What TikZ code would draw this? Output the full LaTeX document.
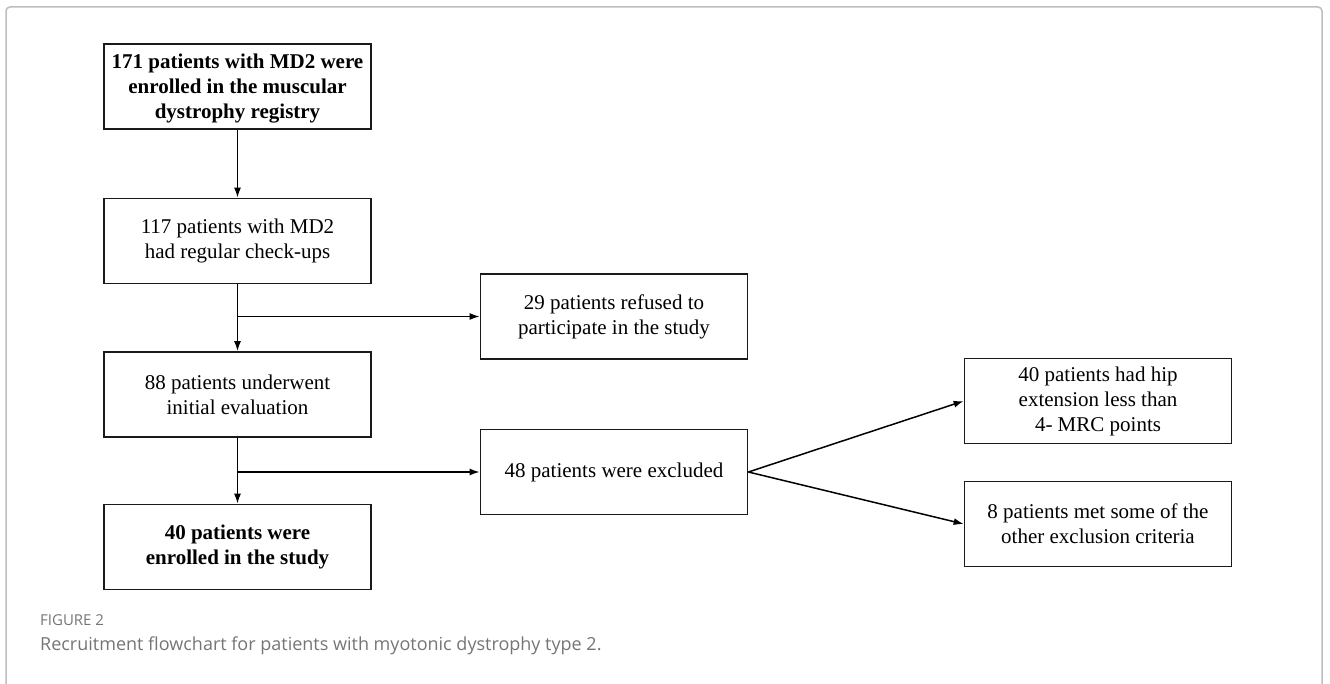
\documentclass[tikz,border=0pt]{standalone}
\usepackage{fontspec}
\setmainfont{Liberation Serif}
\newfontfamily\capfont{Open Sans}
\usetikzlibrary{arrows.meta}
\definecolor{framegray}{HTML}{BDBDBD}
\definecolor{capgray}{HTML}{757575}
\definecolor{boxline}{HTML}{1A1A1A}
\begin{document}
\begin{tikzpicture}[x=1pt,y=-1pt,
  flowbox/.style={draw=boxline, line width=1.7pt, minimum width=267pt, minimum height=85pt,
    inner sep=0pt, align=center, font=\fontsize{21}{25}\selectfont},
  boldbox/.style={flowbox, font=\fontsize{21}{25}\selectfont\bfseries},
  conn/.style={draw=black, line width=1.5pt, -{Latex[length=10pt,width=7pt]}},
  plainline/.style={draw=black, line width=1.5pt}]
\useasboundingbox (0,0) rectangle (1330,684);
% frame
\draw[framegray, line width=1.5pt, rounded corners=4pt] (6,700) -- (6,7) -- (1322,7) -- (1322,700);
% boxes
\node[boldbox, text depth=0pt] (b1) at (237.5,86.5) {171 patients with MD2 were\\enrolled in the muscular\\dystrophy registry};
\node[flowbox] (b2) at (237.5,241) {117 patients with MD2\\had regular check-ups};
\node[flowbox] (b3) at (237.5,394.5) {88 patients underwent\\initial evaluation};
\node[boldbox] (b4) at (237.5,547) {40 patients were\\enrolled in the study};
\node[flowbox] (r1) at (614,316.5) {29 patients refused to\\participate in the study};
\node[flowbox] (r2) at (614,472) {48 patients were excluded};
\node[flowbox] (e1) at (1098,401) {40 patients had hip\\extension less than\\4- MRC points};
\node[flowbox] (e2) at (1098,524) {8 patients met some of the\\other exclusion criteria};
% connectors
\draw[conn] (b1.south) -- (b2.north);
\draw[conn] (b2.south) -- (b3.north);
\draw[conn] (b3.south) -- (b4.north);
\coordinate (j1) at (b2.south |- r1.west);
\coordinate (j2) at (b3.south |- r2.west);
\draw[conn] (j1) -- (r1.west);
\draw[conn] (j2) -- (r2.west);
\draw[conn] (r2.east) -- (e1.west);
\draw[conn] (r2.east) -- (e2.west);
% caption
\node[anchor=base west, inner sep=0pt, text=capgray, font=\capfont\fontsize{15}{17}\selectfont] (fig) at (40,625) {FIGURE 2};
\node[anchor=base west, inner sep=0pt, text=capgray, font=\capfont\fontsize{18}{20}\selectfont] (cap) at (40,650) {Recruitment flowchart for patients with myotonic dystrophy type 2.};
\end{tikzpicture}
\end{document}
